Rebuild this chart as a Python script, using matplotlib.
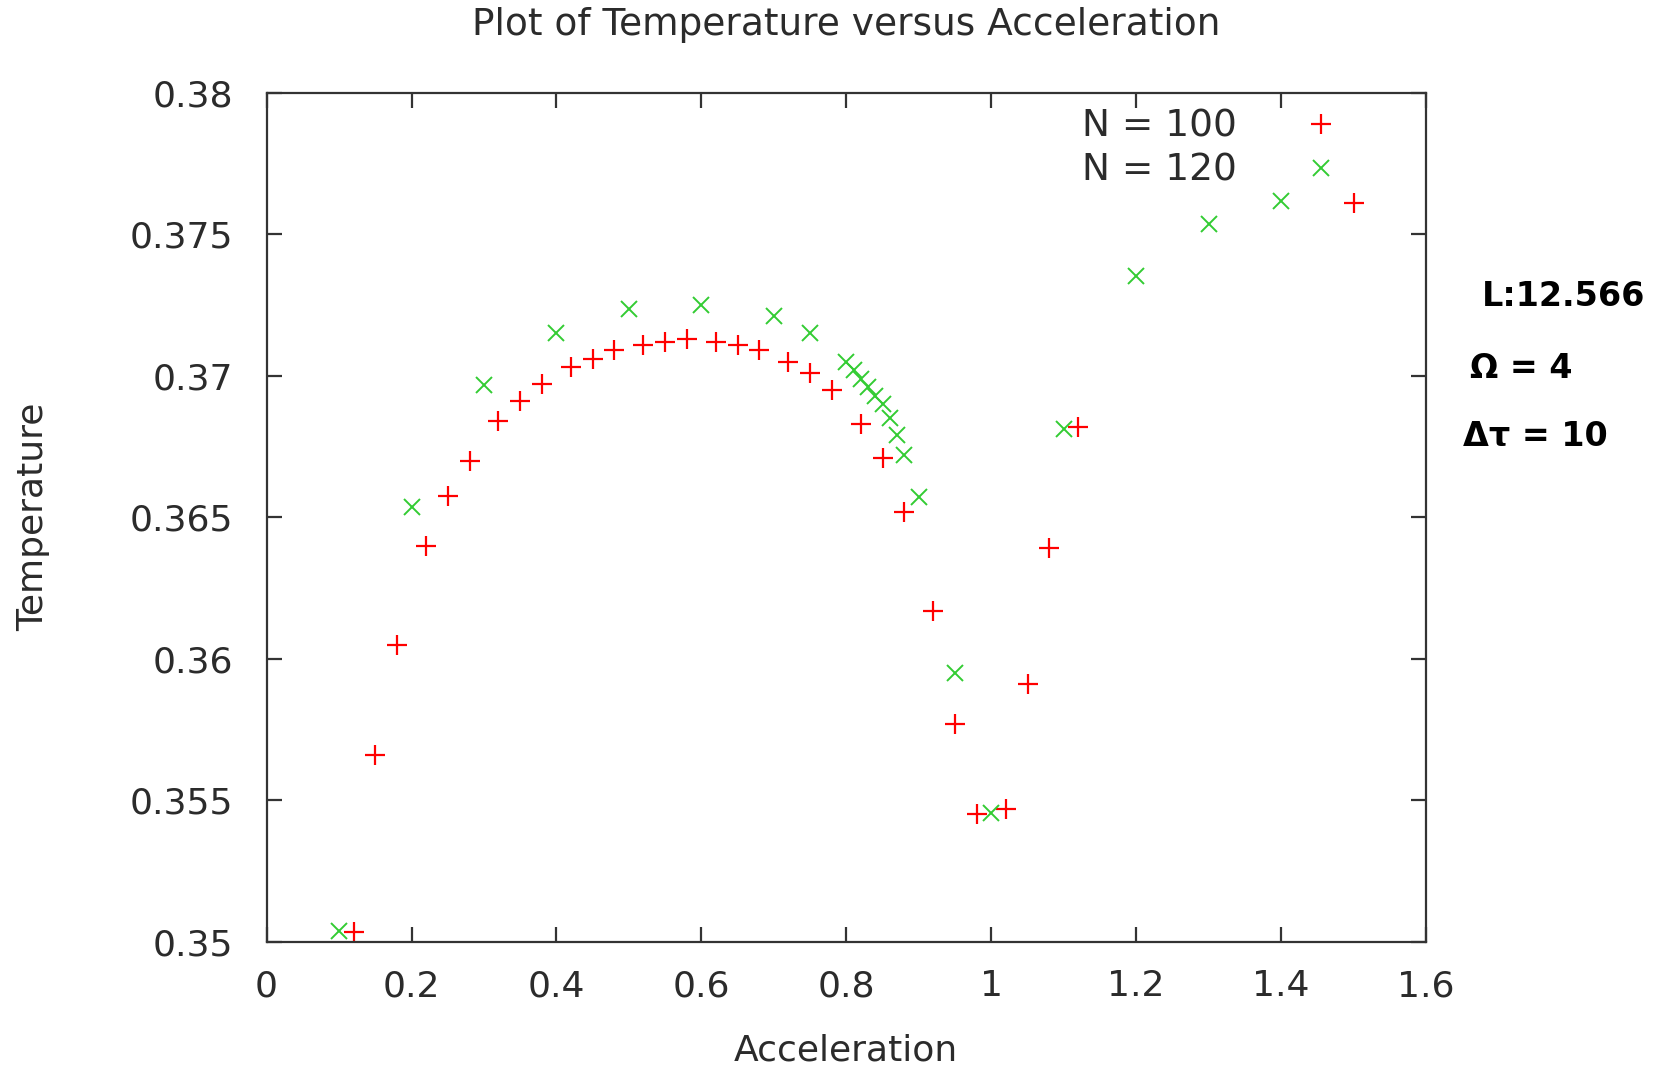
import matplotlib
matplotlib.use("Agg")
import matplotlib.pyplot as plt
from matplotlib.ticker import FuncFormatter, MultipleLocator

# N = 100 series (red +)
accel_100 = [0.12, 0.15, 0.18, 0.22, 0.25, 0.28, 0.32, 0.35, 0.38, 0.42, 0.45,
             0.48, 0.52, 0.55, 0.58, 0.62, 0.65, 0.68, 0.72, 0.75, 0.78, 0.82,
             0.85, 0.88, 0.92, 0.95, 0.98, 1.02, 1.05, 1.08, 1.12, 1.50]
temp_100 = [0.35034, 0.35658, 0.3605, 0.3640, 0.36575, 0.3670, 0.3684, 0.3691,
            0.3697, 0.3703, 0.3706, 0.3709, 0.3711, 0.3712, 0.3713, 0.3712,
            0.3711, 0.3709, 0.3705, 0.3701, 0.3695, 0.3683, 0.3671, 0.3652,
            0.3617, 0.3577, 0.3545, 0.3547, 0.3591, 0.3639, 0.3682, 0.3761]

# N = 120 series (green x)
accel_120 = [0.10, 0.20, 0.30, 0.40, 0.50, 0.60, 0.70, 0.75, 0.80, 0.81, 0.82,
             0.83, 0.84, 0.85, 0.86, 0.87, 0.88, 0.90, 0.95, 1.00, 1.10, 1.20,
             1.30, 1.40]
temp_120 = [0.35037, 0.36537, 0.36968, 0.37151, 0.37237, 0.37252, 0.37211,
            0.37151, 0.37050, 0.37020, 0.36990, 0.36960, 0.36930, 0.36900,
            0.36850, 0.36790, 0.36720, 0.36571, 0.35950, 0.35453, 0.36811,
            0.37353, 0.37536, 0.37618]

labels = ["N = 100", "N = 120"]
notes = ["L:12.566", "Ω = 4", "Δτ = 10"]

txt = "#2b2b2b"

fig = plt.figure(figsize=(16.59, 10.69), dpi=100)
ax = fig.add_axes([0.1607, 0.1192, 0.6989, 0.7938])

ax.plot(accel_100, temp_100, linestyle="none", marker="+", markersize=15,
        markeredgewidth=1.6, color="#ff0000", label=labels[0])
ax.plot(accel_120, temp_120, linestyle="none", marker="x", markersize=12,
        markeredgewidth=1.4, color="#33cc33", label=labels[1])

ax.set_xlim(0, 1.6)
ax.set_ylim(0.35, 0.38)
ax.xaxis.set_major_locator(MultipleLocator(0.2))
ax.yaxis.set_major_locator(MultipleLocator(0.005))
fmt = FuncFormatter(lambda v, p: "%g" % round(v, 4))
ax.xaxis.set_major_formatter(fmt)
ax.yaxis.set_major_formatter(fmt)

ax.tick_params(direction="in", length=11, width=1.6, top=True, right=True,
               labelsize=26, labelcolor=txt, color="#333333")
ax.tick_params(axis="y", pad=24)
ax.tick_params(axis="x", pad=20)
for s in ax.spines.values():
    s.set_linewidth(1.6)
    s.set_color("#333333")

ax.set_title("Plot of Temperature versus Acceleration", fontsize=27,
             color=txt, pad=42)
ax.set_xlabel("Acceleration", fontsize=26, color=txt, labelpad=22)
ax.set_ylabel("Temperature", fontsize=26, color=txt, labelpad=57)

leg = ax.legend(loc="upper right", frameon=False, markerfirst=False,
                fontsize=27, handlelength=1.0, handletextpad=1.75,
                borderaxespad=0.2, labelspacing=0.22,
                bbox_to_anchor=(0.945, 1.008))
for t in leg.get_texts():
    t.set_color(txt)

ys = [0.723, 0.655, 0.592]
xs = [0.893, 0.886, 0.882]
for x, y, s in zip(xs, ys, notes):
    fig.text(x, y, s, fontsize=24, color="black", fontweight="bold",
             va="center", ha="left")

fig.savefig("out.png", dpi=100)
